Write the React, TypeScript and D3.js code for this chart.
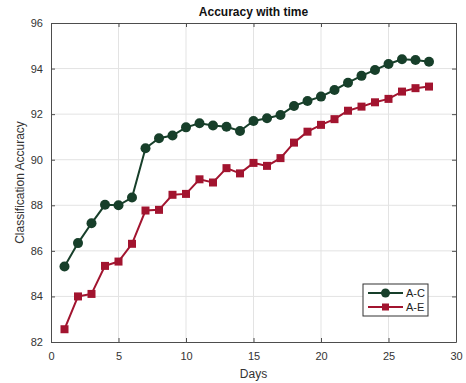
import React, { useEffect, useRef } from 'react';
import * as d3 from 'd3';

// Data
const days = d3.range(1, 29);
const seriesAC = [
  85.31, 86.34, 87.21, 88.02, 88.0, 88.34, 90.5, 90.94, 91.06, 91.42,
  91.6, 91.5, 91.45, 91.26, 91.7, 91.82, 91.96, 92.36, 92.58, 92.77,
  93.06, 93.38, 93.68, 93.94, 94.2, 94.41, 94.38, 94.3,
];
const seriesAE = [
  82.56, 84.0, 84.11, 85.34, 85.53, 86.31, 87.77, 87.8, 88.46, 88.5,
  89.14, 89.0, 89.63, 89.4, 89.86, 89.73, 90.07, 90.75, 91.23, 91.53,
  91.78, 92.15, 92.33, 92.52, 92.67, 92.99, 93.14, 93.21,
];
const xTicks = [0, 5, 10, 15, 20, 25, 30];
const yTicks = [82, 84, 86, 88, 90, 92, 94, 96];
const legendLabels = ['A-C', 'A-E'];

const GREEN = '#173f2a';
const RED = '#a2142f';
const AXIS = '#4d4d4d';
const FONT = 'Liberation Sans, Arial, sans-serif';

const App = () => {
  const ref = useRef<SVGSVGElement>(null);

  useEffect(() => {
    const width = 466;
    const height = 383;
    const margin = { top: 23, right: 10, bottom: 41, left: 51 };
    const innerW = width - margin.left - margin.right;
    const innerH = height - margin.top - margin.bottom;

    const svg = d3.select(ref.current);
    svg.selectAll('*').remove();

    const g = svg.append('g').attr('transform', `translate(${margin.left},${margin.top})`);

    const x = d3.scaleLinear().domain([0, 30]).range([0, innerW]);
    const y = d3.scaleLinear().domain([82, 96]).range([innerH, 0]);

    g.append('rect').attr('width', innerW).attr('height', innerH).attr('fill', '#fff');

    // grid
    g.selectAll('.gx').data(xTicks.slice(1, -1)).enter().append('line')
      .attr('x1', d => x(d)).attr('x2', d => x(d))
      .attr('y1', 0).attr('y2', innerH)
      .attr('stroke', '#e3e3e3').attr('stroke-width', 1);
    g.selectAll('.gy').data(yTicks.slice(1, -1)).enter().append('line')
      .attr('y1', d => y(d)).attr('y2', d => y(d))
      .attr('x1', 0).attr('x2', innerW)
      .attr('stroke', '#e3e3e3').attr('stroke-width', 1);

    // axes box with inward ticks
    const tickLen = 4;
    const bottom = g.append('g').attr('transform', `translate(0,${innerH})`)
      .call(d3.axisBottom(x).tickValues(xTicks).tickSizeInner(-tickLen).tickSizeOuter(0).tickPadding(10));
    const top = g.append('g')
      .call(d3.axisTop(x).tickValues(xTicks).tickSizeInner(-tickLen).tickSizeOuter(0).tickFormat(() => ''));
    const left = g.append('g')
      .call(d3.axisLeft(y).tickValues(yTicks).tickSizeInner(-tickLen).tickSizeOuter(0).tickPadding(8));
    const right = g.append('g').attr('transform', `translate(${innerW},0)`)
      .call(d3.axisRight(y).tickValues(yTicks).tickSizeInner(-tickLen).tickSizeOuter(0).tickFormat(() => ''));

    [bottom, top, left, right].forEach(a => {
      a.select('.domain').attr('stroke', AXIS).attr('stroke-width', 1);
      a.selectAll('.tick line').attr('stroke', AXIS);
      a.selectAll('.tick text').attr('fill', '#333').style('font-family', FONT).style('font-size', '11px');
    });

    const line = d3.line<number>().x((_, i) => x(days[i])).y(d => y(d));

    // A-E series
    g.append('path').datum(seriesAE).attr('d', line)
      .attr('fill', 'none').attr('stroke', RED).attr('stroke-width', 2);
    g.selectAll('.sq').data(seriesAE).enter().append('rect')
      .attr('x', (_, i) => x(days[i]) - 4).attr('y', d => y(d) - 4)
      .attr('width', 8).attr('height', 8).attr('fill', RED);

    // A-C series
    g.append('path').datum(seriesAC).attr('d', line)
      .attr('fill', 'none').attr('stroke', GREEN).attr('stroke-width', 2);
    g.selectAll('.ci').data(seriesAC).enter().append('circle')
      .attr('cx', (_, i) => x(days[i])).attr('cy', d => y(d))
      .attr('r', 5).attr('fill', GREEN);

    // title and labels
    svg.append('text').attr('x', margin.left + innerW / 2).attr('y', 16)
      .attr('text-anchor', 'middle').style('font-family', FONT).style('font-size', '12px')
      .style('font-weight', 'bold').attr('fill', '#111').text('Accuracy with time');
    svg.append('text').attr('x', margin.left + innerW / 2).attr('y', 378)
      .attr('text-anchor', 'middle').style('font-family', FONT).style('font-size', '12px')
      .attr('fill', '#333').text('Days');
    svg.append('text')
      .attr('transform', `translate(24,${margin.top + innerH / 2}) rotate(-90)`)
      .attr('text-anchor', 'middle').style('font-family', FONT).style('font-size', '12px')
      .attr('fill', '#333').text('Classification Accuracy');

    // legend
    const lg = svg.append('g').attr('transform', 'translate(363,284)');
    lg.append('rect').attr('width', 65).attr('height', 32)
      .attr('fill', '#fff').attr('stroke', '#333').attr('stroke-width', 1);
    const colors = [GREEN, RED];
    legendLabels.forEach((lab, i) => {
      const ly = 9 + i * 14;
      lg.append('line').attr('x1', 5).attr('x2', 40).attr('y1', ly).attr('y2', ly)
        .attr('stroke', colors[i]).attr('stroke-width', 2);
      if (i === 0) {
        lg.append('circle').attr('cx', 22.5).attr('cy', ly).attr('r', 4.5).attr('fill', colors[i]);
      } else {
        lg.append('rect').attr('x', 19).attr('y', ly - 3.5).attr('width', 7).attr('height', 7).attr('fill', colors[i]);
      }
      lg.append('text').attr('x', 43).attr('y', ly + 4)
        .style('font-family', FONT).style('font-size', '11px').attr('fill', '#222').text(lab);
    });
  }, []);

  return (
    <svg ref={ref} width={466} height={383}
      style={{ position: 'absolute', left: 0, top: 0, background: '#fff' }} />
  );
};

export default App;
